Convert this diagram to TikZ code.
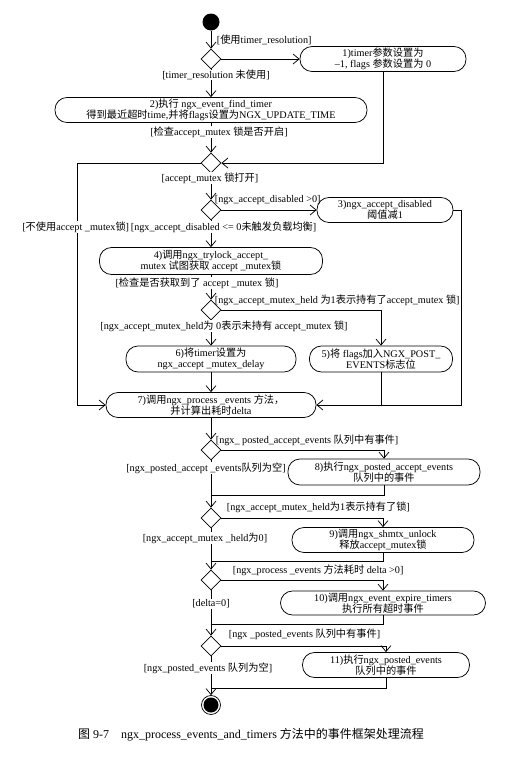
\documentclass[tikz,border=0pt]{standalone}
\usepackage{fontspec}
\setmainfont{Liberation Serif}
\newfontfamily\zhfont{Noto Sans CJK SC}
\usetikzlibrary{arrows.meta, shapes.geometric, calc}

% ideographs switch to the CJK font on their own
\XeTeXinterchartokenstate=1
\newXeTeXintercharclass\zhclass
\newcount\zhcnt
\def\zhrange#1#2{\zhcnt=#1\relax
  \loop\XeTeXcharclass\zhcnt=\zhclass\relax
    \advance\zhcnt by 1\relax
  \ifnum\zhcnt<#2\relax\repeat}
\zhrange{"3000}{"3040}
\zhrange{"4E00}{"A000}
\zhrange{"FF00}{"FFF0}
\XeTeXinterchartoks 0 \zhclass = {\zhfont}
\XeTeXinterchartoks 4095 \zhclass = {\zhfont}
\XeTeXinterchartoks \zhclass 0 = {\rmfamily}
\XeTeXinterchartoks \zhclass 4095 = {\rmfamily}

\begin{document}
\begin{tikzpicture}[x=1pt, y=-1pt, line width=0.75pt,
    every node/.style={font=\fontsize{10.2}{11.5}\selectfont},
    act/.style={draw, rectangle, rounded corners=12pt, minimum height=25pt, inner sep=1pt, align=center},
    dec/.style={draw, diamond, minimum width=20pt, minimum height=20pt, inner sep=0pt},
    guard/.style={inner sep=0.5pt},
    onwire/.style={guard, fill=white},
    final/.style={circle, draw, minimum size=19pt, inner sep=0pt,
      path picture={\fill (path picture bounding box.center) circle (7.5pt);}},
    flow/.style={-{Straight Barb[length=6pt, width=10pt]}}]
    \useasboundingbox (0,0) rectangle (512,758);

    % Nodes
    \node[circle, fill, minimum size=17pt, inner sep=0pt] (start) at (211,22) {};
    \node[dec] (d1) at (211,59) {};
    \node[act, minimum width=166pt] (act1) at (383,59) {1)timer参数设置为\\–1, flags 参数设置为 0};
    \node[act, minimum width=312pt] (act2) at (211,110) {2)执行 ngx\_event\_find\_timer\\得到最近超时time,并将flags设置为NGX\_UPDATE\_TIME};
    \node[dec] (d2) at (211,163) {};
    \node[dec] (d3) at (211,210) {};
    \node[act, minimum width=136pt] (act3) at (385,210) {3)ngx\_accept\_disabled\\阈值减1};
    \node[act, minimum width=223pt, minimum height=27pt] (act4) at (211,261) {4)调用ngx\_trylock\_accept\_\\mutex 试图获取 accept \_mutex锁};
    \node[dec] (d4) at (211,310) {};
    \node[act, minimum width=170pt, minimum height=26pt] (act6) at (211,359) {6)将timer设置为\\ngx\_accept \_mutex\_delay};
    \node[act, minimum width=143pt, minimum height=26pt] (act5) at (381,359) {5)将 flags加入NGX\_POST\_\\EVENTS标志位};
    \node[act, minimum width=210pt] (act7) at (211,405) {7)调用ngx\_process \_events 方法，\\并计算出耗时delta};
    \node[dec] (d5) at (211,450) {};
    \node[act, minimum width=192pt, minimum height=26pt] (act8) at (384,472) {8)执行ngx\_posted\_accept\_events\\队列中的事件};
    \node[dec] (d6) at (211,518) {};
    \node[act, minimum width=182pt] (act9) at (383,540) {9)调用ngx\_shmtx\_unlock\\释放accept\_mutex锁};
    \node[dec] (d7) at (211,580) {};
    \node[act, minimum width=205pt, minimum height=24pt] (act10) at (383,603) {10)调用ngx\_event\_expire\_timers\\执行所有超时事件};
    \node[dec] (d8) at (211,646) {};
    \node[act, minimum width=167pt] (act11) at (386,665) {11)执行ngx\_posted\_events\\队列中的事件};
    \node[final] (stop) at (211,705) {};

    \coordinate (lft) at (77,405);
    \coordinate (rgt) at (461,405);
    \coordinate (j5) at (211,495);
    \coordinate (j6) at (211,561);
    \coordinate (j7) at (211,624);
    \coordinate (j8) at (211,688);

    % Paths
    \draw[flow] (start) -- (d1);
    \draw[flow] (d1) -- (act1);
    \draw[flow] (d1) -- (act2);
    \draw[flow] (act2) -- (d2);
    \draw[flow] (act1) |- (d2);
    \draw[flow] (d2) -| (lft) -- (act7);
    \draw[flow] (d2) -- (d3);
    \draw[flow] (d3) -- (act3);
    \draw[flow] (d3) -- (act4);
    \draw[flow] (act3) -| (rgt) -- (act7);
    \draw (act5) -- (act5 |- rgt);
    \draw[flow] (act4) -- (d4);
    \draw[flow] (d4) -| (act5);
    \draw[flow] (d4) -- (act6);
    \draw[flow] (act6) -- (act7);
    \draw[flow] (act7) -- (d5);
    \draw[flow] (d5) -| (act8);
    \draw (d5) -- (j5) (act8) |- (j5);
    \draw[flow] (j5) -- (d6);
    \draw[flow] (d6) -| (act9);
    \draw (d6) -- (j6) (act9) |- (j6);
    \draw[flow] (j6) -- (d7);
    \draw[flow] (d7) -| (act10);
    \draw (d7) -- (j7) (act10) |- (j7);
    \draw[flow] (j7) -- (d8);
    \draw[flow] (d8) -| (act11);
    \draw (d8) -- (j8) (act11) |- (j8);
    \draw[flow] (j8) -- (stop);

    % Guards
    \node[guard, anchor=west] (g1) at (216,40) {[使用timer\_resolution]};
    \node[onwire] (g2) at (216,75) {[timer\_resolution 未使用]};
    \node[onwire] (g3) at (219,132) {[检查accept\_mutex 锁是否开启]};
    \node[onwire] (g4) at (210,178) {[accept\_mutex 锁打开]};
    \node[guard, anchor=west] (g5) at (214,200) {[ngx\_accept\_disabled >0]};
    \node[onwire, anchor=east] (g6a) at (130,227) {[不使用accept \_mutex锁]};
    \node[onwire, anchor=west] (g6b) at (130,227) {[ngx\_accept\_disabled <= 0未触发负载均衡]};
    \node[onwire] (g7) at (197,283) {[检查是否获取到了 accept \_mutex 锁]};
    \node[guard, anchor=west] (g8) at (214,300) {[ngx\_accept\_mutex\_held 为1表示持有了accept\_mutex 锁]};
    \node[onwire] (g9) at (224,326) {[ngx\_accept\_mutex\_held为 0表示未持有 accept\_mutex 锁]};
    \node[guard, anchor=west] (g10) at (215,440) {[ngx\_ posted\_accept\_events 队列中有事件]};
    \node[onwire] (g11) at (206,468) {[ngx\_posted\_accept \_events队列为空]};
    \node[guard, anchor=west] (g12) at (226,507) {[ngx\_accept\_mutex\_held为1表示持有了锁]};
    \node[onwire] (g13) at (205,538) {[ngx\_accept\_mutex \_held为0]};
    \node[guard, anchor=west] (g14) at (232,570) {[ngx\_process \_events 方法耗时 delta >0]};
    \node[onwire] (g15) at (211,604) {[delta=0]};
    \node[guard, anchor=west] (g16) at (228,634) {[ngx \_posted\_events 队列中有事件]};
    \node[onwire] (g17) at (208,668) {[ngx\_posted\_events 队列为空]};

    % Caption
    \node (caption) at (251,735) {\fontsize{12}{14}\selectfont 图 9-7\quad ngx\_process\_events\_and\_timers 方法中的事件框架处理流程};
\end{tikzpicture}
\end{document}
